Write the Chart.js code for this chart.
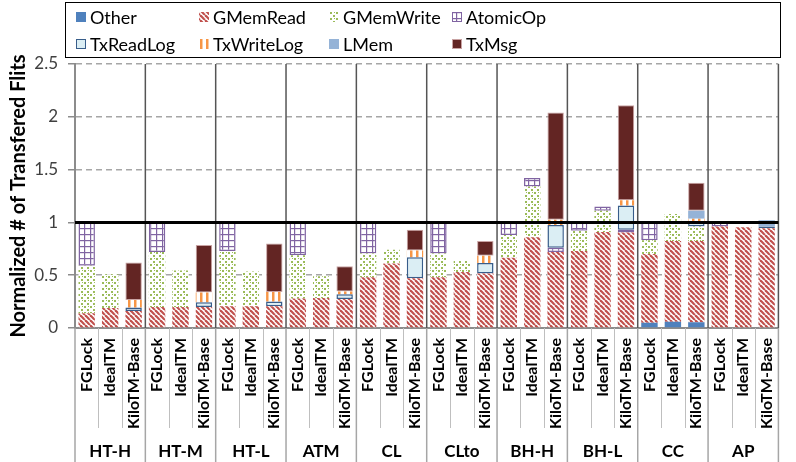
<!DOCTYPE html>
<html>
<head>
<meta charset="utf-8">
<script src="https://cdn.jsdelivr.net/npm/chart.js@4.4.1/dist/chart.umd.min.js"></script>
<style>
  body { margin: 0; background: #fff; }
  canvas { display: block; }
</style>
</head>
<body>
<canvas id="chart" width="796" height="462"></canvas>
<script>
const benchmarks = ["HT-H", "HT-M", "HT-L", "ATM", "CL", "CLto", "BH-H", "BH-L", "CC", "AP"];
const configs = ["FGLock", "IdealTM", "KiloTM-Base"];
const yTicks = [0, 0.5, 1, 1.5, 2, 2.5];

// one value per bar: FGLock, IdealTM, KiloTM-Base for each benchmark
const other = [
  0, 0, 0,  0, 0, 0,  0, 0, 0,  0, 0, 0,  0, 0, 0,
  0, 0, 0,  0, 0, 0.008,  0, 0, 0,  0.05, 0.06, 0.055,  0, 0, 0];
const gMemRead = [
  0.14, 0.19, 0.16,  0.2, 0.2, 0.2,  0.205, 0.205, 0.205,  0.28, 0.285, 0.275,  0.48, 0.61, 0.47,
  0.48, 0.53, 0.515,  0.665, 0.86, 0.712,  0.73, 0.91, 0.905,  0.65, 0.765, 0.77,  0.96, 0.955, 0.945];
const gMemWrite = [
  0.45, 0.32, 0,  0.52, 0.345, 0,  0.525, 0.33, 0,  0.41, 0.205, 0,  0.225, 0.13, 0,
  0.225, 0.11, 0,  0.215, 0.48, 0,  0.19, 0.2, 0,  0.13, 0.255, 0.135,  0, 0, 0];
const atomicOp = [
  0.41, 0, 0,  0.28, 0, 0,  0.27, 0, 0,  0.31, 0, 0,  0.295, 0, 0,
  0.295, 0, 0,  0.12, 0.08, 0.04,  0.08, 0.04, 0.025,  0.17, 0, 0,  0.04, 0, 0];
const txReadLog = [
  0, 0, 0.035,  0, 0, 0.045,  0, 0, 0.045,  0, 0, 0.045,  0, 0, 0.2,
  0, 0, 0.1,  0, 0, 0.215,  0, 0, 0.23,  0, 0, 0.04,  0, 0, 0.015];
const txWriteLog = [
  0, 0, 0.07,  0, 0, 0.09,  0, 0, 0.09,  0, 0, 0.025,  0, 0, 0.065,
  0, 0, 0.07,  0, 0, 0.05,  0, 0, 0.05,  0, 0, 0.035,  0, 0, 0];
const lMem = [
  0, 0, 0,  0, 0, 0,  0, 0, 0,  0, 0, 0,  0, 0, 0,
  0, 0, 0,  0, 0, 0,  0, 0, 0,  0, 0, 0.075,  0, 0, 0.06];
const txMsg = [
  0, 0, 0.355,  0, 0, 0.45,  0, 0, 0.46,  0, 0, 0.24,  0, 0, 0.195,
  0, 0, 0.14,  0, 0, 1.015,  0, 0, 0.9,  0, 0, 0.265,  0, 0, 0];

const labels = benchmarks.flatMap(() => configs);

const canvas = document.getElementById("chart");
const ctx = canvas.getContext("2d");

// small repeating tiles for the hatched fills
function tile(w, h, draw) {
  const c = document.createElement("canvas");
  c.width = w;
  c.height = h;
  const g = c.getContext("2d");
  g.fillStyle = "#fff";
  g.fillRect(0, 0, w, h);
  draw(g);
  return ctx.createPattern(c, "repeat");
}

const redStripes = tile(5, 5, (g) => {
  g.strokeStyle = "#c0504d";
  g.lineWidth = 2.2;
  for (let k = -1; k <= 1; k++) {
    g.beginPath();
    g.moveTo(k * 5, 0);
    g.lineTo(k * 5 + 5, 5);
    g.stroke();
  }
});
const greenDots = tile(6, 6, (g) => {
  g.fillStyle = "#9bbb59";
  g.fillRect(0, 0, 2, 2);
  g.fillRect(3, 3, 2, 2);
  g.fillRect(4, 0, 1, 1);
});
const purpleGrid = tile(6, 6, (g) => {
  g.fillStyle = "#8064a2";
  g.fillRect(0, 0, 6, 1.2);
  g.fillRect(0, 0, 1.2, 6);
});
const orangeBars = tile(6, 1, (g) => {
  g.fillStyle = "#f79646";
  g.fillRect(2, 0, 2.5, 1);
});

const series = [
  { label: "Other", data: other, backgroundColor: "#4f81bd" },
  { label: "GMemRead", data: gMemRead, backgroundColor: redStripes },
  { label: "GMemWrite", data: gMemWrite, backgroundColor: greenDots },
  { label: "AtomicOp", data: atomicOp, backgroundColor: purpleGrid, borderColor: "#8064a2", borderWidth: 1.5 },
  { label: "TxReadLog", data: txReadLog, backgroundColor: "#dbeef4", borderColor: "#385d8a", borderWidth: 1.5 },
  { label: "TxWriteLog", data: txWriteLog, backgroundColor: orangeBars },
  { label: "LMem", data: lMem, backgroundColor: "#95b3d7" },
  { label: "TxMsg", data: txMsg, backgroundColor: "#632523", borderColor: "#c9a3a3", borderWidth: 1 },
];

const legendCols = [76, 199, 329, 452];
const legendRows = [17, 44];

const legendBox = {
  id: "legendBox",
  afterDraw(chart) {
    const c = chart.ctx;
    c.save();
    c.strokeStyle = "#000";
    c.lineWidth = 1;
    c.strokeRect(65.5, 2.5, 715, 55);
    chart.data.datasets.forEach((ds, i) => {
      const sx = legendCols[i % 4];
      const sy = legendRows[Math.floor(i / 4)];
      c.fillStyle = ds.backgroundColor;
      c.fillRect(sx, sy - 5, 10, 10);
      if (ds.borderWidth) {
        c.strokeStyle = ds.borderColor;
        c.lineWidth = 1;
        c.strokeRect(sx + 0.5, sy - 4.5, 9, 9);
      }
      c.fillStyle = "#000";
      c.font = "18px Lato";
      c.textAlign = "left";
      c.textBaseline = "middle";
      c.fillText(ds.label, sx + 14, sy + 1);
    });
    c.restore();
  },
};

const groupLines = {
  id: "groupLines",
  afterDatasetsDraw(chart) {
    const c = chart.ctx;
    const area = chart.chartArea;
    const { x, y } = chart.scales;
    const slot = x.getPixelForValue(1) - x.getPixelForValue(0);
    const edge = (i) => x.getPixelForValue(i) - slot / 2;
    const line = (x1, y1, x2, y2) => {
      c.beginPath();
      c.moveTo(x1, y1);
      c.lineTo(x2, y2);
      c.stroke();
    };
    c.save();
    // separators between bars, below the axis
    c.strokeStyle = "#bfbfbf";
    c.lineWidth = 1;
    for (let i = 1; i < labels.length; i++) {
      if (i % configs.length === 0) continue;
      line(Math.round(edge(i)) + 0.5, area.bottom, Math.round(edge(i)) + 0.5, area.bottom + 100);
    }
    // separators between benchmarks
    for (let g = 0; g <= benchmarks.length; g++) {
      const px = edge(g * configs.length);
      c.strokeStyle = "#a6a6a6";
      c.lineWidth = 1.5;
      line(px, area.bottom, px, chart.height);
      if (g > 0) {
        c.strokeStyle = "#555";
        line(px, area.top, px, area.bottom);
      }
    }
    // reference line at 1
    c.strokeStyle = "#000";
    c.lineWidth = 3;
    const y1 = y.getPixelForValue(1);
    line(area.left, y1, area.right, y1);
    // benchmark names
    c.fillStyle = "#000";
    c.font = "bold 17px Lato";
    c.textAlign = "center";
    c.textBaseline = "middle";
    benchmarks.forEach((b, g) => {
      const cx = (edge(g * 3) + edge(g * 3 + 3)) / 2;
      c.fillText(b, cx, 452);
    });
    c.restore();
  },
};

new Chart(ctx, {
  type: "bar",
  data: {
    labels: labels,
    datasets: series.map((s) => ({
      ...s,
      data: s.data.map((v) => (v === 0 ? null : v)),
      borderWidth: s.borderWidth || 0,
      borderColor: s.borderColor || "transparent",
      borderSkipped: false,
      barPercentage: 0.7,
      categoryPercentage: 1,
    })),
  },
  options: {
    responsive: false,
    animation: false,
    layout: { padding: { top: 64, right: 7, left: 0, bottom: 0 } },
    plugins: { legend: { display: false }, tooltip: { enabled: false } },
    scales: {
      x: {
        stacked: true,
        grid: { display: false, drawTicks: false },
        border: { color: "#8c8c8c", width: 2 },
        ticks: {
          autoSkip: false,
          minRotation: 90,
          maxRotation: 90,
          padding: 10,
          color: "#000",
          font: { family: "Lato", size: 16, weight: "bold" },
        },
        afterFit: (scale) => { scale.height = 134; },
      },
      y: {
        stacked: true,
        min: 0,
        max: 2.5,
        afterBuildTicks: (scale) => { scale.ticks = yTicks.map((v) => ({ value: v })); },
        grid: { color: "#a6a6a6", lineWidth: 1.5, tickLength: 7, tickColor: "#8c8c8c", tickBorderDash: [] },
        border: { color: "#8c8c8c", width: 2, dash: [6, 4] },
        ticks: {
          padding: 10,
          color: "#404040",
          font: { family: "Lato", size: 17 },
          callback: (v) => String(v),
        },
        title: {
          display: true,
          text: "Normalized # of Transfered Flits",
          color: "#000",
          font: { family: "Lato", size: 20, weight: "bold" },
          padding: { top: 7, bottom: 0 },
        },
        afterFit: (scale) => { scale.width = 75; },
      },
    },
  },
  plugins: [groupLines, legendBox],
});
</script>
</body>
</html>
